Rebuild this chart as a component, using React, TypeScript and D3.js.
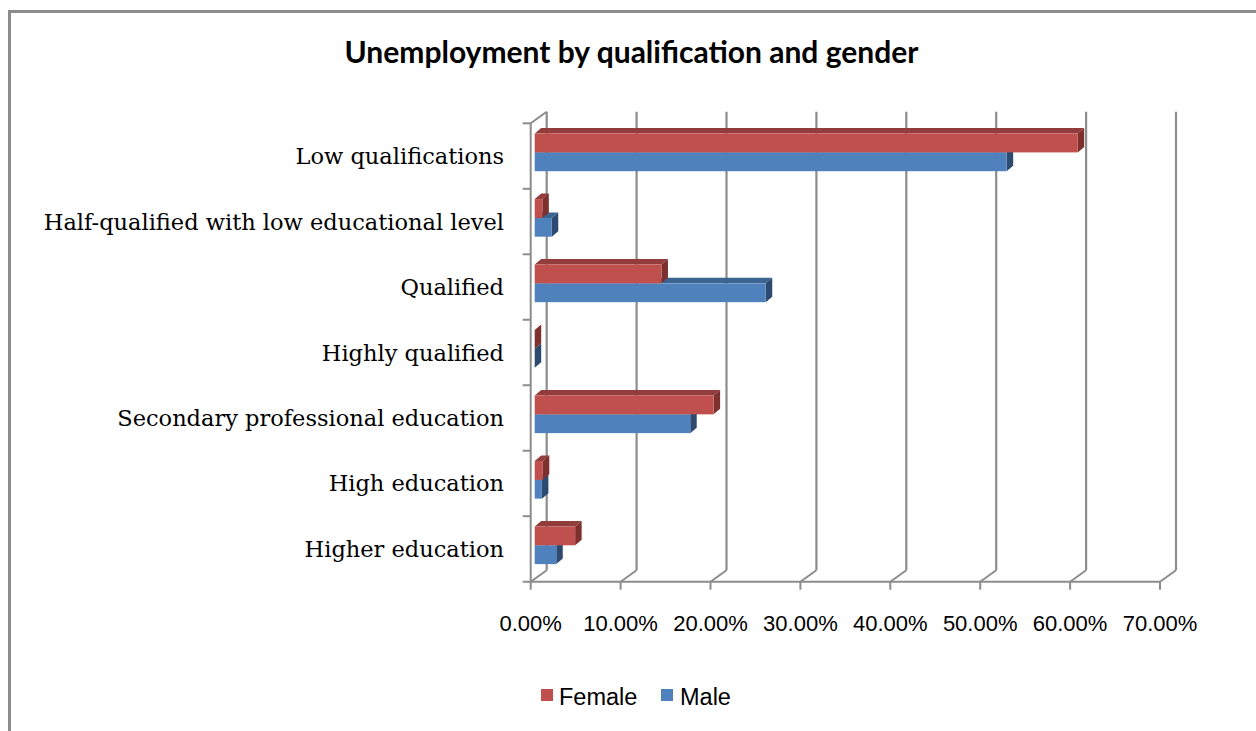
import React from "react";
import * as d3 from "d3";

const categories = [
  "Low qualifications",
  "Half-qualified with low educational level",
  "Qualified",
  "Highly qualified",
  "Secondary professional education",
  "High education",
  "Higher education",
];
const femaleValues = [60.4, 0.85, 14.1, 0.0, 19.9, 0.9, 4.5];
const maleValues = [52.5, 1.9, 25.7, 0.0, 17.3, 0.8, 2.4];
const xTicks = [0, 10, 20, 30, 40, 50, 60, 70];
const seriesNames = ["Female", "Male"];

const RED = { front: "#C0504D", top: "#923D3B", side: "#7D302E" };
const BLUE = { front: "#4F81BD", top: "#3C6491", side: "#2D4B70" };

const W = 1256;
const H = 731;

export default function App() {
  const axisTop = 123.3;
  const axisBottom = 581.7;
  const depthX = 16;
  const depthY = 11.5;
  const y = d3.scaleBand<string>().domain(categories).range([axisTop, axisBottom]).paddingInner(0).paddingOuter(0);
  const xFront = d3.scaleLinear().domain([0, 70]).range([530.7, 1160]);
  const xBar = d3.scaleLinear().domain([0, 70]).range([534.7, 1164]);
  const grey = "#8C8C8C";
  const barH = 18.8;
  const bdx = 6.5;
  const bdy = 5.5;

  const bar3d = (v: number, y0: number, col: typeof RED, key: string) => {
    const x0 = xBar(0);
    const x1 = xBar(v);
    const y1 = y0 + barH;
    const pts = (a: number[][]) => a.map((p) => p.join(",")).join(" ");
    return (
      <g key={key}>
        <polygon points={pts([[x0, y0], [x1, y0], [x1 + bdx, y0 - bdy], [x0 + bdx, y0 - bdy]])} fill={col.top} />
        <polygon points={pts([[x1, y0], [x1 + bdx, y0 - bdy], [x1 + bdx, y1 - bdy], [x1, y1]])} fill={col.side} />
        <rect x={x0} y={y0} width={Math.max(0, x1 - x0)} height={barH} fill={col.front} />
      </g>
    );
  };

  return (
    <svg width={W} height={H} style={{ position: "absolute", left: 0, top: 0, background: "#fff" }}>
      <rect x={0} y={0} width={W} height={H} fill="#fff" />
      <rect x={9.5} y={11.5} width={W + 20} height={H + 20} fill="none" stroke={grey} strokeWidth={3} />
      <text x={631.5} y={63} textAnchor="middle" fontFamily="Lato, 'Open Sans', sans-serif" fontWeight={700} fontSize={30} fill="#000">
        Unemployment by qualification and gender
      </text>

      {/* back wall gridlines */}
      {xTicks.map((t) => (
        <g key={"g" + t}>
          <line x1={xFront(t) + depthX} x2={xFront(t) + depthX} y1={axisTop - depthY} y2={axisBottom - depthY} stroke={grey} strokeWidth={2.2} />
          <line x1={xFront(t)} y1={axisBottom} x2={xFront(t) + depthX} y2={axisBottom - depthY} stroke={grey} strokeWidth={2} />
          <line x1={xFront(t)} x2={xFront(t)} y1={axisBottom} y2={axisBottom + 8} stroke={grey} strokeWidth={2} />
          <text x={xFront(t)} y={631} textAnchor="middle" fontFamily="'Liberation Sans', Arial, sans-serif" fontSize={22} fill="#000">
            {t.toFixed(2) + "%"}
          </text>
        </g>
      ))}
      <line x1={xFront(0)} y1={axisTop} x2={xFront(0) + depthX} y2={axisTop - depthY} stroke={grey} strokeWidth={2} />

      {/* axes */}
      <line x1={xFront(0)} x2={xFront(0)} y1={axisTop} y2={axisBottom} stroke={grey} strokeWidth={2} />
      <line x1={xFront(0) - 8} x2={xFront(70)} y1={axisBottom} y2={axisBottom} stroke={grey} strokeWidth={2} />
      {categories.map((c) => (
        <line key={"t" + c} x1={xFront(0) - 8} x2={xFront(0)} y1={y(c)!} y2={y(c)!} stroke={grey} strokeWidth={2} />
      ))}

      {/* bars */}
      {categories.map((c, i) => {
        const yb = y(c)!;
        const yRed = yb + 10.3;
        const yBlue = yRed + barH;
        return (
          <g key={"b" + c}>
            {bar3d(maleValues[i], yBlue, BLUE, "m")}
            {bar3d(femaleValues[i], yRed, RED, "f")}
          </g>
        );
      })}

      {/* category labels */}
      {categories.map((c) => (
        <text key={"l" + c} x={504} y={y(c)! + y.bandwidth() / 2 + 8} textAnchor="end" fontFamily="'DejaVu Serif', serif" fontSize={22.5} fill="#000">
          {c}
        </text>
      ))}

      {/* legend */}
      <rect x={541} y={689} width={12} height={12} fill={RED.front} />
      <text x={559} y={705} fontFamily="'Liberation Sans', Arial, sans-serif" fontSize={23.5} fill="#000">{seriesNames[0]}</text>
      <rect x={661} y={689} width={12} height={12} fill={BLUE.front} />
      <text x={680} y={705} fontFamily="'Liberation Sans', Arial, sans-serif" fontSize={23.5} fill="#000">{seriesNames[1]}</text>
    </svg>
  );
}
